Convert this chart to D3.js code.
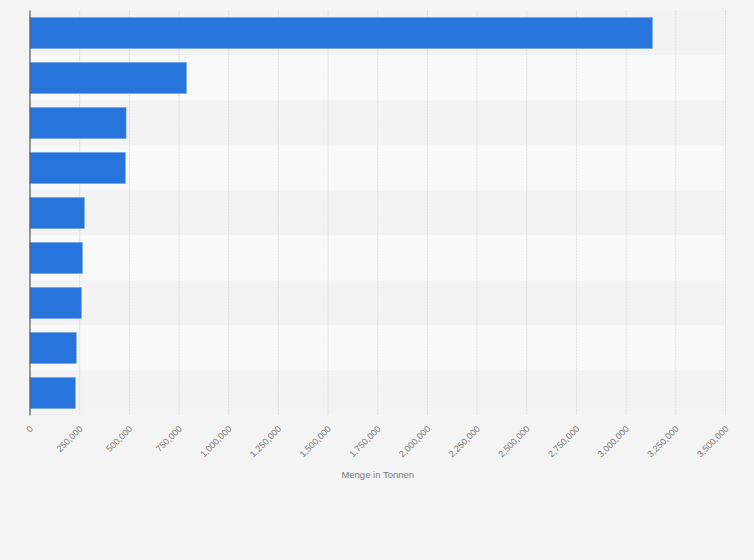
<!DOCTYPE html>
<html>
<head>
<meta charset="utf-8">
<script src="https://cdn.jsdelivr.net/npm/d3@7"></script>
<style>
  body { margin: 0; background: #f4f4f4; }
  svg { display: block; font-family: "Liberation Sans", Arial, sans-serif; }
</style>
</head>
<body>
<div id="chart"></div>
<script>
// categories (no labels shown on the chart) and values in tonnes
var categories = ['c1', 'c2', 'c3', 'c4', 'c5', 'c6', 'c7', 'c8', 'c9'];
var values = [3132000, 787000, 483500, 480000, 273500, 263500, 258500, 233000, 228000];
var xTicks = [0, 250000, 500000, 750000, 1000000, 1250000, 1500000, 1750000,
  2000000, 2250000, 2500000, 2750000, 3000000, 3250000, 3500000];
var xTitle = 'Menge in Tonnen';

// set the dimensions and margins of the graph
var margin = { top: 10.5, right: 28.5, bottom: 144.5, left: 30 },
  width = 754 - margin.left - margin.right,
  height = 560 - margin.top - margin.bottom;

var svg = d3
  .select('#chart')
  .append('svg')
  .attr('width', 754)
  .attr('height', 560)
  .append('g')
  .attr('transform', 'translate(' + margin.left + ',' + margin.top + ')');

var x = d3.scaleLinear().domain([0, 3500000]).range([0, width]);
var y = d3.scaleBand().domain(categories).range([0, height]).paddingInner(0.31).paddingOuter(0.155);
var rows = d3.scaleBand().domain(categories).range([0, height]);

// alternating row backgrounds
svg
  .selectAll('.row')
  .data(categories)
  .enter()
  .append('rect')
  .attr('x', 0)
  .attr('y', function (d) { return rows(d); })
  .attr('width', width)
  .attr('height', rows.bandwidth())
  .attr('fill', function (d, i) { return i % 2 === 0 ? '#f3f3f3' : '#f9f9f9'; });

// vertical grid lines
svg
  .selectAll('.grid')
  .data(xTicks.slice(1))
  .enter()
  .append('line')
  .attr('x1', function (d) { return x(d); })
  .attr('x2', function (d) { return x(d); })
  .attr('y1', 0)
  .attr('y2', height)
  .attr('stroke', '#dcdcdc')
  .attr('stroke-width', 1)
  .attr('stroke-dasharray', '2,1');

// bars
svg
  .selectAll('.bar')
  .data(values)
  .enter()
  .append('rect')
  .attr('x', 0)
  .attr('y', function (d, i) { return y(categories[i]); })
  .attr('width', function (d) { return x(d); })
  .attr('height', y.bandwidth())
  .attr('fill', '#2775dc')
  .attr('stroke', '#6aa3ea')
  .attr('stroke-width', 0.6);

// X axis
var xAxis = svg
  .append('g')
  .attr('transform', 'translate(0,' + height + ')')
  .call(d3.axisBottom(x).tickValues(xTicks).tickSize(0).tickPadding(0)
    .tickFormat(function (d) { return d3.format(',')(d); }));
xAxis.select('.domain').remove();
xAxis
  .selectAll('text')
  .attr('fill', '#7a7a7a')
  .style('font-size', '9px')
  .attr('text-anchor', 'end')
  .attr('dy', 0)
  .attr('transform', 'translate(3,14) rotate(-45)');

// y axis line
svg
  .append('line')
  .attr('x1', 0)
  .attr('x2', 0)
  .attr('y1', 0)
  .attr('y2', height)
  .attr('stroke', '#555')
  .attr('stroke-width', 1.2);

// axis title
svg
  .append('text')
  .attr('x', width / 2)
  .attr('y', height + 62)
  .attr('text-anchor', 'middle')
  .attr('fill', '#7a7a7a')
  .style('font-size', '9.5px')
  .text(xTitle);
</script>
</body>
</html>
